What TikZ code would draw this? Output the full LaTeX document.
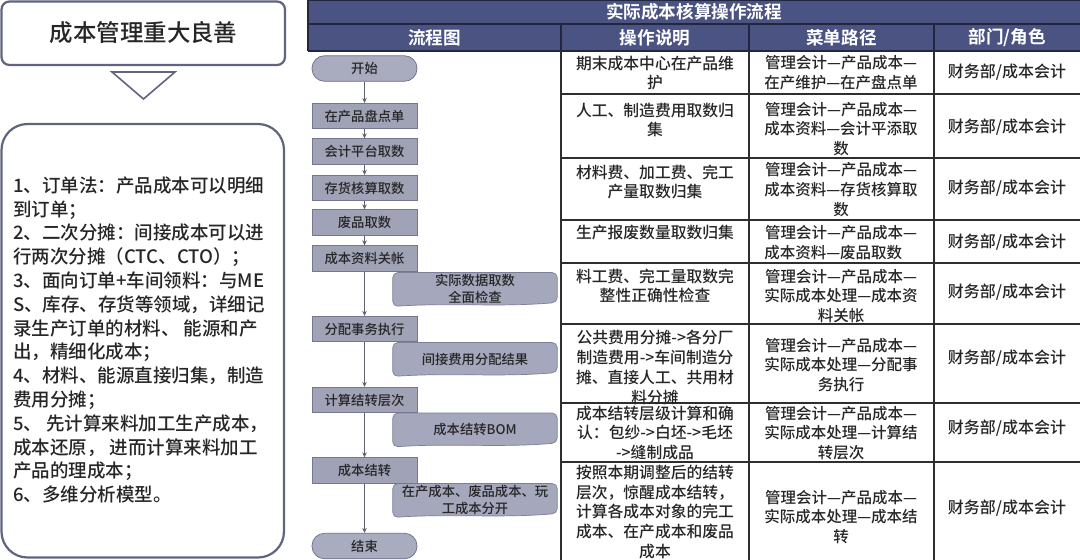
\documentclass[tikz,border=0pt]{standalone}
\usepackage{fontspec}
\setmainfont{Noto Sans CJK SC}[UprightFont=* Medium, BoldFont=* Bold]
\usetikzlibrary{arrows.meta}
\definecolor{frame}{HTML}{60647F}
\definecolor{hdr}{HTML}{4B5382}
\definecolor{hdrline}{HTML}{22273F}
\definecolor{grid}{HTML}{2E2E2E}
\definecolor{procfill}{HTML}{A0A2B6}
\definecolor{procedge}{HTML}{74778F}
\definecolor{termfill}{HTML}{A9ABBF}
\definecolor{termedge}{HTML}{6C6F88}
\definecolor{docfill}{HTML}{A5A7BC}
\definecolor{docedge}{HTML}{7C7F97}
\definecolor{arrowc}{HTML}{5F6070}
\definecolor{txt}{HTML}{262626}
\pgfdeclarelayer{bg}\pgfsetlayers{bg,main}
\newcommand\fsz[2]{\fontsize{#1}{#2}\selectfont}
\begin{document}
\begin{tikzpicture}[x=1pt,y=-1pt,
  procbox/.style={rectangle, fill=procfill, draw=procedge, line width=0.7pt,
    minimum width=105pt, minimum height=25.5pt, inner sep=0, text=txt, font=\fsz{13.3}{16}},
  termbox/.style={rectangle, rounded corners=12.5pt, fill=termfill, draw=termedge, line width=0.7pt,
    minimum width=105pt, minimum height=25.5pt, inner sep=0, text=txt, font=\fsz{13.3}{16}},
  docbox/.style={rectangle, minimum width=164pt, minimum height=32.5pt, inner sep=0,
    align=center, text=txt, font=\fsz{13.3}{16.5}},
  docshape/.style={fill=docfill, draw=docedge, line width=0.7pt, rounded corners=5pt},
  flow/.style={draw=arrowc, line width=0.8pt, -{Stealth[length=5pt,width=4.5pt]}},
  hdrtext/.style={text=white, font=\fsz{17.6}{20}\bfseries, inner sep=0},
  ctext/.style={align=center, inner sep=0, text=txt, font=\fsz{15.8}{19.8}},
  mtext/.style={align=center, inner sep=0, text=txt, font=\fsz{15.5}{19.8}},
  rtext/.style={align=center, inner sep=0, text=txt, font=\fsz{16}{20}},
  gridline/.style={draw=grid, line width=1.1pt},
  hline/.style={draw=hdrline, line width=1.2pt}
]
\useasboundingbox (0,0) rectangle (1080,560);
\begin{pgfonlayer}{bg}
\fill[white] (0,0) rectangle (1080,560);
\end{pgfonlayer}

% ---------- left panel ----------
\draw[frame, line width=2.2pt, rounded corners=8pt] (1.5,1.5) rectangle (285,65);
\node[inner sep=0, text=txt, font=\fsz{23.5}{28}] (title) at (143.5,33) {成本管理重大良善};
\draw[frame, line width=1.6pt, line join=miter] (112,72) -- (175,72) -- (143.5,99) -- cycle;
\draw[frame, line width=2.2pt, rounded corners=26pt] (1.5,124) rectangle (284,557.5);
\node[anchor=west, align=left, inner sep=0, text=txt, font=\fsz{18.5}{23.8}] (body) at (13,340) {%
1、订单法：产品成本可以明细\\
到订单；\\
2、二次分摊：间接成本可以进\\
行两次分摊（CTC、CTO）；\\
3、面向订单+车间领料：与ME\\
S、库存、存货等领域，详细记\\
录生产订单的材料、 能源和产\\
出，精细化成本；\\
4、材料、能源直接归集，制造\\
费用分摊；\\
5、 先计算来料加工生产成本，\\
成本还原， 进而计算来料加工\\
产品的理成本；\\
6、多维分析模型。};

% ---------- table header ----------
\fill[hdr] (308,0) rectangle (1080,51);
\draw[hline] (308,0.6) -- (1080,0.6);
\draw[hline] (308,24) -- (1080,24);
\draw[hline] (308,51) -- (1080,51);
\draw[hline] (308,0) -- (308,51);
\foreach \cx in {561,749,934} \draw[hline] (\cx,24) -- (\cx,51);
\node[hdrtext] (htitle) at (694,12) {实际成本核算操作流程};
\node[hdrtext] (h1) at (434.5,37.5) {流程图};
\node[hdrtext] (h2) at (655,37.5) {操作说明};
\node[hdrtext] (h3) at (841.5,37.5) {菜单路径};
\node[hdrtext] (h4) at (1007,37.5) {部门/角色};

% ---------- grid ----------
\foreach \cx in {561,749,934} \draw[gridline] (\cx,51) -- (\cx,560);
\foreach \ry in {94,158,220,263,324,403,462} \draw[gridline] (561,\ry) -- (1080,\ry);

% ---------- column 2 ----------
\node[ctext] (a1) at (655,73) {期末成本中心在产品维\\护};
\node[ctext] (a2) at (655,120) {人工、制造费用取数归\\集};
\node[ctext] (a3) at (655,182) {材料费、加工费、完工\\产量取数归集};
\node[ctext] (a4) at (655,233) {生产报废数量取数归集};
\node[ctext] (a5) at (655,286) {料工费、完工量取数完\\整性正确性检查};
\node[ctext] (a6) at (655,367.5) {公共费用分摊->各分厂\\制造费用->车间制造分\\摊、直接人工、共用材\\料分摊};
\node[ctext] (a7) at (655,433) {成本结转层级计算和确\\认：包纱->白坯->毛坯\\->缝制成品};
\node[ctext] (a8) at (655,512) {按照本期调整后的结转\\层次，惊醒成本结转，\\计算各成本对象的完工\\成本、在产成本和废品\\成本};

% ---------- column 3 ----------
\node[mtext] (b1) at (841,73) {管理会计—产品成本—\\在产维护—在产盘点单};
\node[mtext] (b2) at (841,129) {管理会计—产品成本—\\成本资料—会计平添取\\数};
\node[mtext] (b3) at (841,189.5) {管理会计—产品成本—\\成本资料—存货核算取\\数};
\node[mtext] (b4) at (841,243) {管理会计—产品成本—\\成本资料—废品取数\hspace*{15.5pt}};
\node[mtext] (b5) at (841,296) {管理会计—产品成本—\\实际成本处理—成本资\\料关帐};
\node[mtext] (b6) at (841,365) {管理会计—产品成本—\\实际成本处理—分配事\\务执行};
\node[mtext] (b7) at (841,433) {管理会计—产品成本—\\实际成本处理—计算结\\转层次};
\node[mtext] (b8) at (841,517) {管理会计—产品成本—\\实际成本处理—成本结\\转};

% ---------- column 4 ----------
\node[rtext] (c1) at (1007,72) {财务部/成本会计};
\node[rtext] (c2) at (1007,127) {财务部/成本会计};
\node[rtext] (c3) at (1007,188) {财务部/成本会计};
\node[rtext] (c4) at (1007,242) {财务部/成本会计};
\node[rtext] (c5) at (1007,292) {财务部/成本会计};
\node[rtext] (c6) at (1007,358) {财务部/成本会计};
\node[rtext] (c7) at (1007,428) {财务部/成本会计};
\node[rtext] (c8) at (1007,508) {财务部/成本会计};

% ---------- flow chart ----------
\node[docbox] (d1) at (475,289) {实际数据取数\\全面检查};
\node[docbox] (d2) at (475,359) {间接费用分配结果};
\node[docbox] (d3) at (475,429.5) {成本结转BOM};
\node[docbox] (d4) at (475,500) {在产成本、废品成本、玩\\工成本分开};
\begin{pgfonlayer}{bg}
\foreach \n in {d1,d2,d3,d4}
  \draw[docshape] (\n.north west) -- (\n.north east) -- ([yshift=3pt]\n.south east)
    .. controls ([xshift=-60pt,yshift=-2pt]\n.south east) and ([xshift=60pt,yshift=3pt]\n.south west) .. ([yshift=-1pt]\n.south west) -- cycle;
\end{pgfonlayer}

\node[termbox] (start) at (364.5,68.5) {开始};
\node[procbox] (p1) at (364.5,116) {在产品盘点单};
\node[procbox] (p2) at (364.5,151.5) {会计平台取数};
\node[procbox] (p3) at (364.5,188) {存货核算取数};
\node[procbox] (p4) at (364.5,222.5) {废品取数};
\node[procbox] (p5) at (364.5,258.5) {成本资料关帐};
\node[procbox] (p6) at (364.5,329) {分配事务执行};
\node[procbox] (p7) at (364.5,400) {计算结转层次};
\node[procbox] (p8) at (364.5,470.5) {成本结转};
\node[termbox] (stop) at (364.5,546) {结束};

\draw[flow] (start) -- (p1);
\draw[flow] (p1) -- (p2);
\draw[flow] (p2) -- (p3);
\draw[flow] (p3) -- (p4);
\draw[flow] (p4) -- (p5);
\draw[flow] (p5) -- (p6);
\draw[flow] (p6) -- (p7);
\draw[flow] (p7) -- (p8);
\draw[flow] (p8) -- (stop);
\end{tikzpicture}
\end{document}
